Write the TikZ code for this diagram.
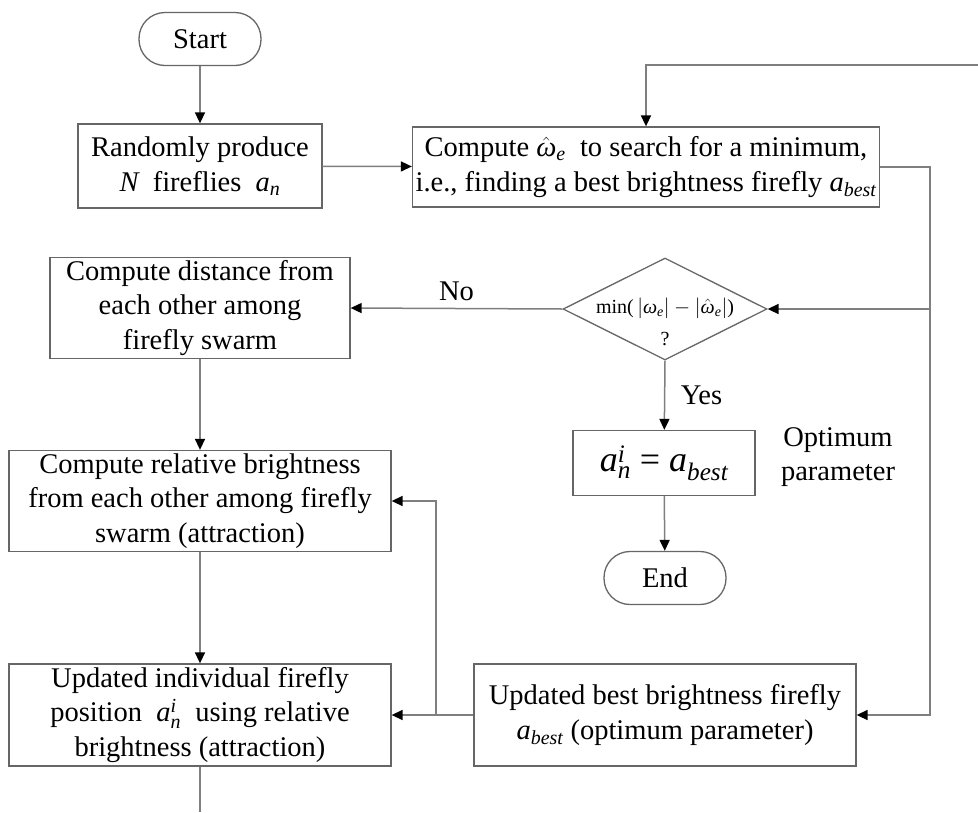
\documentclass[tikz,border=0pt]{standalone}
\usepackage{amsmath}
\usepackage{fontspec}
\setmainfont{Liberation Serif}
\usetikzlibrary{arrows.meta,shapes.geometric}
\definecolor{FlowLine}{HTML}{7F7F7F}
\definecolor{FlowBox}{HTML}{666666}
\newcommand{\iv}[1]{\textit{#1}}
\tikzset{>={Triangle[length=11pt,width=10pt,black]},every node/.style={font=\fontsize{28.5}{34.5}\selectfont},
 proc/.style={draw=FlowBox,line width=1.3pt,align=center,inner sep=0pt},
 term/.style={proc,rounded corners=26pt,minimum width=122pt,minimum height=53pt},
 decide/.style={diamond,draw=FlowBox,line width=1.3pt,inner sep=0pt,minimum width=204pt,minimum height=102pt},
 flow/.style={draw=FlowLine,line width=1.5pt,->}}

\begin{document}
\begin{tikzpicture}[x=1pt,y=-1pt]
\useasboundingbox (0,0) rectangle (978,812);
% boxes
\node[term] (start) at (200,39) {Start};
\node[proc,minimum width=244pt,minimum height=84pt] (rand) at (200,166) {Randomly produce\\ $\iv{N}$\ \ fireflies\ \ $\iv{a}_{\iv{n}}$};
\node[proc,minimum width=467pt,minimum height=80pt] (comp) at (646,167)
 {Compute $\hat{\iv{ω}}_{\iv{e}}$\ \ to search for a minimum,\\ i.e., finding a best brightness firefly $\iv{a}_{\iv{best}}$};
\node[decide] (dec) at (665,309) {};
\node[font=\fontsize{20}{32}\selectfont,align=center] (dtxt) at (665,322)
 {min($\,\lvert\iv{ω}_{\iv{e}}\rvert - \lvert\hat{\iv{ω}}_{\iv{e}}\rvert$)\\ ?};
\node[proc,minimum width=300pt,minimum height=101pt] (dist) at (200,308) {Compute distance from\\ each other among\\ firefly swarm};
\node[proc,minimum width=182pt,minimum height=65pt,font=\fontsize{36}{40}\selectfont] (abox) at (664,463)
 {$\iv{a}_{\iv{n}}^{\iv{i}}$ = $\iv{a}_{\iv{best}}$};
\node[align=center] (opt) at (838,457) {Optimum\\ parameter};
\node[term] (end) at (665,578) {End};
\node[proc,minimum width=382pt,minimum height=101pt] (rel) at (200,501)
 {Compute relative brightness\\ from each other among firefly\\ swarm (attraction)};
\node[proc,minimum width=382pt,minimum height=102pt] (ind) at (200,715)
 {Updated individual firefly\\ position\ \ $\iv{a}_{\iv{n}}^{\iv{i}}$\ \ using relative\\ brightness (attraction)};
\node[proc,minimum width=382pt,minimum height=102pt] (best) at (665,715)
 {Updated best brightness firefly\\ $\iv{a}_{\iv{best}}$\ (optimum parameter)};
% free ends
\coordinate (topR) at (978,65);
\coordinate (rl) at (930,309);
\coordinate (br) at (436,715);
\coordinate (bot) at (200,812);
% connectors
\draw[flow] (start) -- (rand);
\draw[flow] (rand) -- (comp);
\draw[flow] (topR) -| (comp);
\draw[flow] (comp.east) -- ++(50,0) |- (best.east);
\draw[flow] (rl) -- (dec.east);
\draw[flow] (dec.west) -- node[above=4pt] (no) {No} (dist.east);
\draw[flow] (dec.south) -- node[right=12pt] (yes) {Yes} (abox);
\draw[flow] (abox) -- (end);
\draw[flow] (dist) -- (rel);
\draw[flow] (rel) -- (ind);
\draw[flow] (best) -- (ind);
\draw[flow] (br) |- (rel.east);
\draw[draw=FlowLine,line width=1.5pt] (ind) -- (bot);
\end{tikzpicture}
\end{document}
